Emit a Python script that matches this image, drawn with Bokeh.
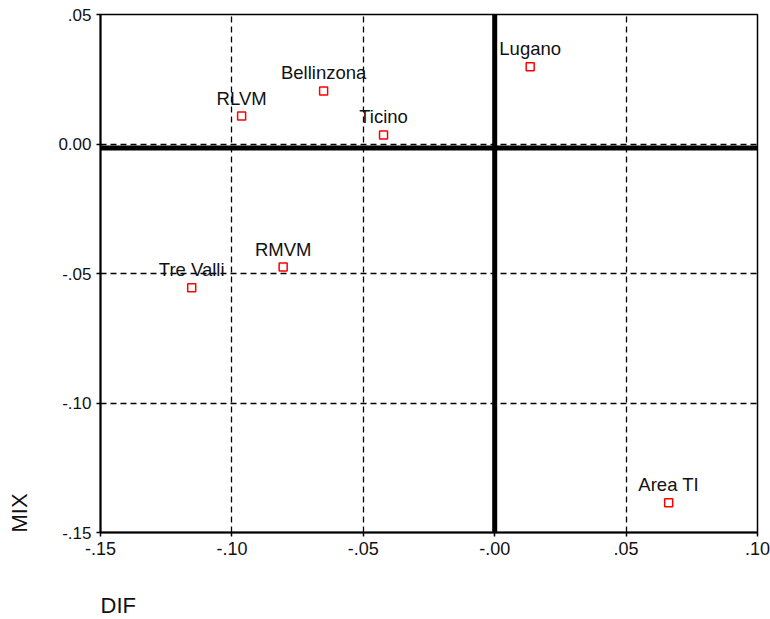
from bokeh.plotting import figure
from bokeh.models import Span, Title, ColumnDataSource, FixedTicker
from bokeh.embed import file_html
from bokeh.resources import INLINE

# ---- data ----
names = ["Lugano", "Bellinzona", "RLVM", "Ticino", "RMVM", "Tre Valli", "Area TI"]
dif = [0.0135, -0.0651, -0.0963, -0.0423, -0.0805, -0.1153, 0.0662]
mix = [0.0298, 0.0205, 0.0108, 0.0035, -0.0475, -0.0555, -0.1385]

x_ticks = [-0.15, -0.10, -0.05, 0.0, 0.05, 0.10]
x_tick_labels = ["-.15", "-.10", "-.05", "-.00", ".05", ".10"]
y_ticks = [-0.15, -0.10, -0.05, 0.0, 0.05]
y_tick_labels = ["-.15", "-.10", "-.05", "0.00", ".05"]

x_min, x_max = -0.15, 0.10
y_min, y_max = -0.15, 0.05

ref_dif = 0.0
ref_mix = -0.0015

x_title = "DIF"
y_title = "MIX"

FONT = "Liberation Sans"

p = figure(width=770, height=619, x_range=(x_min, x_max), y_range=(y_min, y_max),
           output_backend="svg", toolbar_location=None,
           min_border_left=100, min_border_right=13, min_border_top=14, min_border_bottom=87)
p.background_fill_color = "white"
p.border_fill_color = "white"
p.outline_line_color = "black"
p.outline_line_width = 1.5
p.outline_line_alpha = 1.0

xa, ya = p.xaxis[0], p.yaxis[0]
# spacer (blank 1px axis label) pushes the axis title away from the tick labels
for ax, ticks, labels, fs, gap in ((xa, x_ticks, x_tick_labels, "18px", 29),
                                   (ya, y_ticks, y_tick_labels, "17px", 20)):
    ax.ticker = FixedTicker(ticks=ticks)
    ax.major_label_overrides = {t: l for t, l in zip(ticks, labels)}
    ax.minor_tick_line_color = None
    ax.major_tick_in = 0
    ax.major_tick_out = 4
    ax.major_tick_line_color = "black"
    ax.major_tick_line_width = 1.5
    ax.axis_line_color = "black"
    ax.axis_line_width = 2
    ax.major_label_text_font = FONT
    ax.major_label_text_font_size = fs
    ax.major_label_text_color = "#111111"
    ax.major_label_standoff = 5
    ax.axis_label = "\u00a0"
    ax.axis_label_text_font_size = "1px"
    ax.axis_label_standoff = gap

p.add_layout(Title(text=x_title, align="left", text_font=FONT, text_font_size="22px",
                   text_font_style="normal", text_color="#111111", standoff=0), "below")
p.add_layout(Title(text=y_title, align="left", text_font=FONT, text_font_size="22px",
                   text_font_style="normal", text_color="#111111", standoff=0), "left")

for g in (p.xgrid[0], p.ygrid[0]):
    g.grid_line_color = "black"
    g.grid_line_dash = "6 4"
    g.grid_line_width = 1.3

p.add_layout(Span(location=ref_dif, dimension="height", line_color="black", line_width=5))
p.add_layout(Span(location=ref_mix, dimension="width", line_color="black", line_width=5))

src = ColumnDataSource(dict(x=dif, y=mix, name=names))
p.scatter("x", "y", source=src, marker="square", size=8, fill_color="white",
          line_color="red", line_width=1.5)
p.text("x", "y", text="name", source=src, text_align="center", text_baseline="alphabetic",
       y_offset=-18, text_font_size="18.5px", text_color="#111111", text_font={"value": FONT})

open("out.html", "w").write(file_html(p, INLINE))
